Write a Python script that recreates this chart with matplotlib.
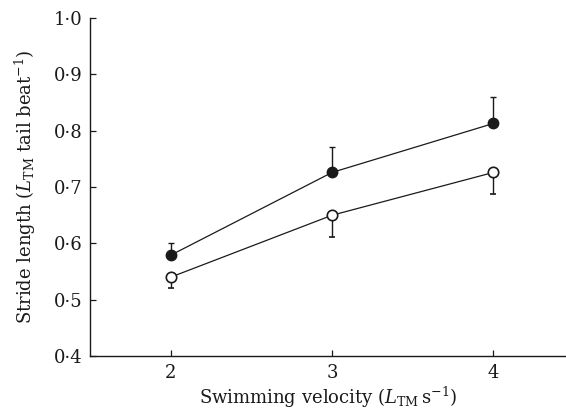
import numpy as np
import matplotlib as mpl
import matplotlib.pyplot as plt

velocity = [2, 3, 4]
filled_mean = [0.579, 0.726, 0.813]
filled_err = [0.021, 0.045, 0.047]
open_mean = [0.540, 0.650, 0.726]
open_err = [0.020, 0.039, 0.038]
y_ticks = [0.4, 0.5, 0.6, 0.7, 0.8, 0.9, 1.0]
y_labels = ['0·4', '0·5', '0·6', '0·7', '0·8', '0·9', '1·0']

mpl.rcParams['font.family'] = ['DejaVu Serif']
mpl.rcParams['mathtext.fontset'] = 'dejavuserif'

fig = plt.figure(figsize=(5.66, 4.13), dpi=100)
ax = fig.add_axes([0.159, 0.138, 0.841, 0.818])

zeros = [0, 0, 0]
ax.errorbar(velocity, filled_mean, yerr=[zeros, filled_err], fmt='o-', color='#1a1a1a',
            mfc='#1a1a1a', mec='#1a1a1a', ms=7.5, lw=0.9, elinewidth=1.0, capsize=2, capthick=1.0, zorder=3)
ax.errorbar(velocity, open_mean, yerr=[open_err, zeros], fmt='o-', color='#1a1a1a',
            mfc='white', mec='#1a1a1a', mew=1.2, ms=7.5, lw=0.9, elinewidth=1.0, capsize=2, capthick=1.0, zorder=3)

ax.set_xlim(1.5, 4.45)
ax.set_ylim(0.4, 1.0)
ax.set_xticks(velocity)
ax.set_yticks(y_ticks)
ax.set_yticklabels(y_labels)
ax.tick_params(direction='in', length=4, width=0.9, labelsize=13, colors='#1a1a1a')
ax.tick_params(axis='y', pad=5.5)
ax.tick_params(axis='x', pad=6)
for s in ['top', 'right']:
    ax.spines[s].set_visible(False)
for s in ['left', 'bottom']:
    ax.spines[s].set_linewidth(1.0)
    ax.spines[s].set_color('#1a1a1a')

ax.set_xlabel(r'Swimming velocity ($L_{\mathrm{TM}}\,\mathrm{s}^{-1}$)', fontsize=13, color='#1a1a1a', labelpad=2)
ax.set_ylabel(r'Stride length ($L_{\mathrm{TM}}$ tail beat$^{-1}$)', fontsize=13, color='#1a1a1a', labelpad=11)

fig.savefig('out.png', dpi=100)
